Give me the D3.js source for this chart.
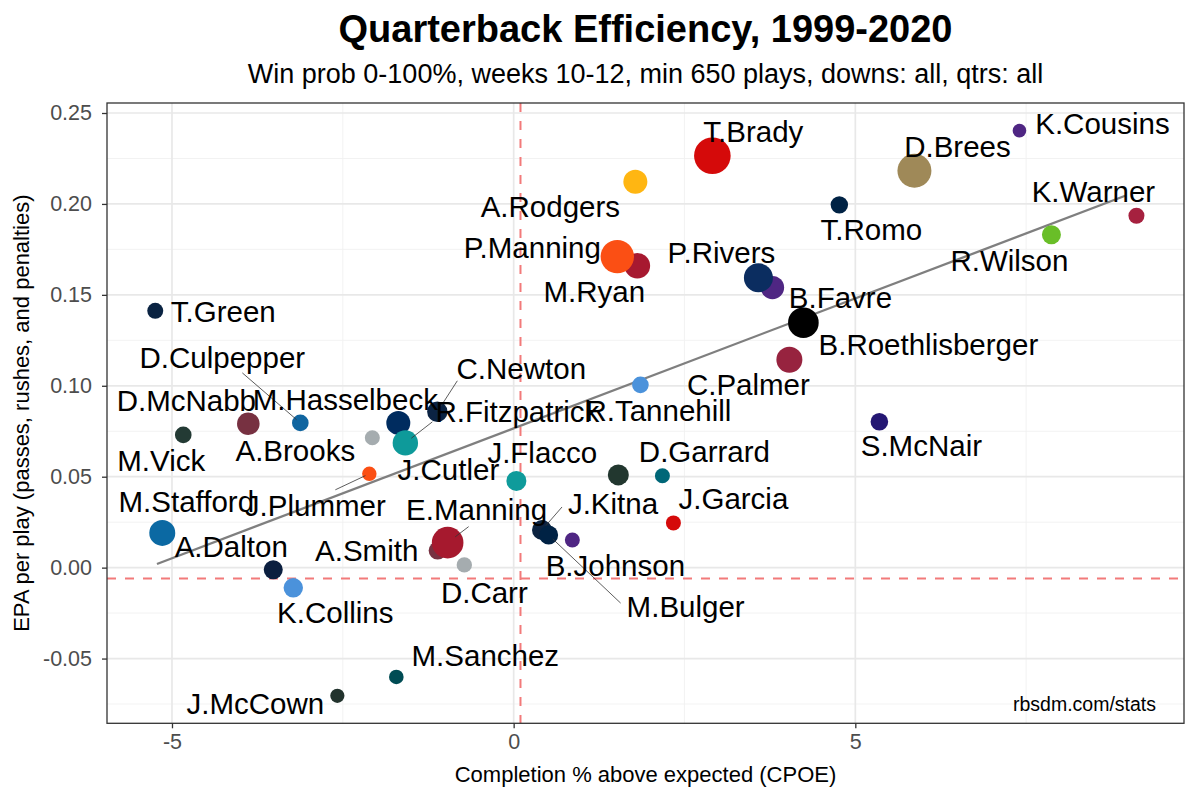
<!DOCTYPE html>
<html><head><meta charset="utf-8">
<script src="https://cdn.jsdelivr.net/npm/d3@7"></script>
<style>
html,body{margin:0;padding:0;background:#fff;}
text{font-family:"Liberation Sans",Arial,Helvetica,sans-serif;}
</style></head>
<body><svg id="chart" width="1200" height="801"></svg>
<script>
// ---------------- DATA ----------------
const players = ["T.Green","D.Culpepper","D.McNabb","M.Vick","A.Brooks","M.Hasselbeck","C.Newton","R.Fitzpatrick","J.Plummer","J.Cutler","R.Tannehill","J.Flacco","D.Garrard","J.Garcia","J.Kitna","M.Bulger","B.Johnson","A.Smith","E.Manning","D.Carr","M.Stafford","A.Dalton","K.Collins","M.Sanchez","J.McCown","T.Brady","A.Rodgers","M.Ryan","P.Manning","B.Favre","P.Rivers","B.Roethlisberger","C.Palmer","S.McNair","T.Romo","D.Brees","K.Cousins","K.Warner","R.Wilson"];
const cpoe = [-5.245,-3.122,-3.883,-4.835,-2.068,-1.688,-1.117,-1.585,-2.112,0.04,1.855,1.532,2.177,2.338,0.415,0.512,0.859,-1.112,-0.966,-0.722,-5.142,-3.518,-3.225,-1.717,-2.58,2.908,1.781,1.81,1.517,3.787,3.582,4.24,4.035,5.352,4.766,5.865,7.402,9.114,7.87];
const epa = [0.1412,0.0796,0.0791,0.073,0.0714,0.0796,0.0857,0.0686,0.0516,0.0477,0.1005,0.051,0.0505,0.0246,0.0207,0.0179,0.0152,0.0094,0.01375,0.0015,0.0191,-0.0012,-0.0111,-0.0601,-0.0705,0.2265,0.2122,0.166,0.171,0.154,0.1594,0.1347,0.1143,0.0802,0.1995,0.2183,0.2403,0.1935,0.183];
const plays = [704,733,1077,733,659,1173,939,1274,633,915,733,975,659,659,915,858,659,804,1792,676,1319,858,880,641,625,2291,1173,1289,1963,1131,1561,1701,1319,783,773,2022,600,704,858];
const teamColors = ["#0a2342","#1065a0","#773141","#233a34","#a5acaf","#002c5f","#0b2343","#0e9a9a","#fb4f14","#0f9b9b","#4b92db","#22372f","#006778","#d50a0a","#0c2340","#002244","#4f2683","#773141","#a6192e","#a5acaf","#0b69a3","#0b1f3f","#4b92db","#004c54","#22332d","#d50a0a","#ffb612","#a71930","#fb4f14","#4f2683","#0b2d60","#000000","#97233f","#241773","#002244","#9f8958","#4f2683","#a6213f","#69be28"];
const xTicks = [-5, 0, 5];
const yTicks = [-0.05, 0, 0.05, 0.10, 0.15, 0.20, 0.25];
const yTickLabels = ["-0.05","0.00","0.05","0.10","0.15","0.20","0.25"];
const xMinor = [-2.5, 2.5, 7.5];
const yMinor = [-0.075,-0.025,0.025,0.075,0.125,0.175,0.225];
const refX = 0.1, refY = -0.006;
const trendX = [-5.22, 8.95];
const trendY = [0.002, 0.2045];
const titleText = "Quarterback Efficiency, 1999-2020";
const subtitleText = "Win prob 0-100%, weeks 10-12, min 650 plays, downs: all, qtrs: all";
const xTitle = "Completion % above expected (CPOE)";
const yTitle = "EPA per play (passes, rushes, and penalties)";
const caption = "rbsdm.com/stats";

// ---------------- LAYOUT (label placement, px offsets from the point) ----------------
const labelOffsets = {
 "T.Green":[68,1],"D.Culpepper":[-78,-65],"D.McNabb":[-62,-23],"M.Hasselbeck":[-53,-23],"A.Brooks":[-77,13],
 "M.Vick":[-22,25],"C.Newton":[84,-43],"R.Fitzpatrick":[112,-32],"R.Tannehill":[18,26],"J.Cutler":[-68,-12],
 "J.Flacco":[-76,-23],"D.Garrard":[42,-24],"J.Garcia":[60,-25],"J.Kitna":[71,-27],"M.Bulger":[137,71],
 "B.Johnson":[43,25],"E.Manning":[29,-33],"A.Smith":[-71,0],"D.Carr":[20,27],"J.Plummer":[-54,32],
 "M.Stafford":[24,-32],"A.Dalton":[-42,-23],"K.Collins":[42,25],"M.Sanchez":[89,-22],"J.McCown":[-82,8],
 "T.Brady":[41,-24],"A.Rodgers":[-85,25],"P.Manning":[-85,-9],"M.Ryan":[-43,26],"P.Rivers":[-37,-25],
 "B.Favre":[68,10],"B.Roethlisberger":[125,22],"C.Palmer":[-41,25],"S.McNair":[42,24],"T.Romo":[32,25],
 "D.Brees":[43,-24],"K.Cousins":[83,-7],"K.Warner":[-43,-24],"R.Wilson":[-42,26]
};
const leaderEnds = {
 "D.Culpepper":[-58,-50],"C.Newton":[20,-31],"R.Fitzpatrick":[27,-21],"J.Plummer":[-34,16],
 "E.Manning":[21,-16],"J.Kitna":[20,-23],"M.Bulger":[72,68]
};

// ---------------- CHART ----------------
const svg = d3.select("#chart");
const P = {left:107, right:1184, top:103, bottom:723.3};
const x = d3.scaleLinear().domain([-5.951, 9.81]).range([P.left, P.right]);
const y = d3.scaleLinear().domain([-0.0856, 0.2555]).range([P.bottom, P.top]);
const r = d3.scaleRadial().domain([600, 2400]).range([6.8, 18.8]);

svg.append("rect").attr("width",1200).attr("height",801).attr("fill","#fff");

const grid = svg.append("g");
grid.selectAll(".xm").data(xMinor).join("line")
  .attr("x1",d=>x(d)).attr("x2",d=>x(d)).attr("y1",P.top).attr("y2",P.bottom)
  .attr("stroke","#f0f0f0").attr("stroke-width",0.9);
grid.selectAll(".ym").data(yMinor).join("line")
  .attr("y1",d=>y(d)).attr("y2",d=>y(d)).attr("x1",P.left).attr("x2",P.right)
  .attr("stroke","#f0f0f0").attr("stroke-width",0.9);
grid.selectAll(".xM").data(xTicks).join("line")
  .attr("x1",d=>x(d)).attr("x2",d=>x(d)).attr("y1",P.top).attr("y2",P.bottom)
  .attr("stroke","#e8e8e8").attr("stroke-width",1.7);
grid.selectAll(".yM").data(yTicks).join("line")
  .attr("y1",d=>y(d)).attr("y2",d=>y(d)).attr("x1",P.left).attr("x2",P.right)
  .attr("stroke","#e8e8e8").attr("stroke-width",1.7);

// reference lines
svg.append("line").attr("x1",x(refX)).attr("x2",x(refX)).attr("y1",P.top).attr("y2",P.bottom)
  .attr("stroke","#f27a7a").attr("stroke-width",2).attr("stroke-dasharray","9,9");
svg.append("line").attr("x1",P.left).attr("x2",P.right).attr("y1",y(refY)).attr("y2",y(refY))
  .attr("stroke","#f27a7a").attr("stroke-width",2).attr("stroke-dasharray","9,9");

// trend
svg.append("path").datum(trendX.map((d,i)=>[d,trendY[i]]))
  .attr("d", d3.line().x(d=>x(d[0])).y(d=>y(d[1])))
  .attr("stroke","#7f7f7f").attr("stroke-width",2.3).attr("fill","none");

// points
const data = players.map((p,i)=>({name:p, x:cpoe[i], y:epa[i], plays:plays[i], color:teamColors[i]}));
svg.append("g").selectAll("circle").data(data).join("circle")
  .attr("cx",d=>x(d.x)).attr("cy",d=>y(d.y)).attr("r",d=>r(d.plays)).attr("fill",d=>d.color);

// labels and leader segments
const lg = svg.append("g");
data.forEach(d=>{
  const px = x(d.x), py = y(d.y);
  const off = labelOffsets[d.name];
  if (leaderEnds[d.name]) {
    const e = leaderEnds[d.name];
    const len = Math.hypot(e[0], e[1]);
    const s = r(d.plays)*0.6/len;
    lg.append("line").attr("x1",px+e[0]*s).attr("y1",py+e[1]*s)
      .attr("x2",px+e[0]).attr("y2",py+e[1]).attr("stroke","#333").attr("stroke-width",0.8);
  }
  lg.append("text").attr("x",px+off[0]).attr("y",py+off[1]).attr("dy","0.36em")
    .attr("text-anchor","middle").attr("font-size",29.5).attr("fill","#000").text(d.name);
});

// panel border
svg.append("rect").attr("x",P.left).attr("y",P.top).attr("width",P.right-P.left).attr("height",P.bottom-P.top)
  .attr("fill","none").attr("stroke","#333").attr("stroke-width",1.3);

// axes
const xAxis = svg.append("g").attr("transform",`translate(0,${P.bottom})`)
  .call(d3.axisBottom(x).tickValues(xTicks).tickSize(5).tickPadding(5).tickFormat(d3.format("d")));
const yAxis = svg.append("g").attr("transform",`translate(${P.left},0)`)
  .call(d3.axisLeft(y).tickValues(yTicks).tickSize(5).tickPadding(10).tickFormat((d,i)=>yTickLabels[i]));
[xAxis,yAxis].forEach(a=>{
  a.select(".domain").remove();
  a.selectAll(".tick line").attr("stroke","#333").attr("stroke-width",1.3);
  a.selectAll(".tick text").attr("fill","#4d4d4d").attr("font-size",21.5)
   .attr("font-family","'Liberation Sans',Arial,sans-serif");
});
xAxis.selectAll(".tick text").text(d=>d<0?"-"+Math.abs(d):d);

// titles
const cx = (P.left+P.right)/2;
svg.append("text").attr("x",cx).attr("y",42).attr("text-anchor","middle")
  .attr("font-size",38).attr("font-weight","bold").attr("fill","#000").text(titleText);
svg.append("text").attr("x",cx).attr("y",83).attr("text-anchor","middle")
  .attr("font-size",27).attr("fill","#000").text(subtitleText);
svg.append("text").attr("x",cx).attr("y",782).attr("text-anchor","middle")
  .attr("font-size",22).attr("fill","#000").text(xTitle);
svg.append("text").attr("transform",`translate(29,${(P.top+P.bottom)/2}) rotate(-90)`)
  .attr("text-anchor","middle").attr("font-size",22).attr("fill","#000").text(yTitle);
svg.append("text").attr("x",1156).attr("y",711).attr("text-anchor","end")
  .attr("font-size",19.5).attr("fill","#000").text(caption);
</script></body></html>
